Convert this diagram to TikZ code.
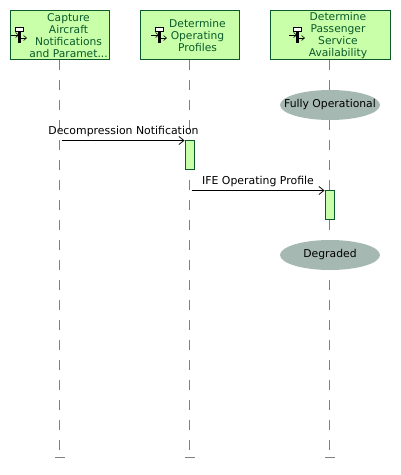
\documentclass[tikz,border=0pt]{standalone}
\usepackage{fontspec}
\setmainfont{DejaVu Sans}
\usetikzlibrary{arrows.meta}
\usetikzlibrary{shapes.geometric}
\definecolor{capfill}{HTML}{C8FFA8}
\definecolor{capline}{HTML}{0B5A2C}
\definecolor{statefill}{HTML}{A6B8B2}
\tikzset{
	capbox/.style = {draw = capline, fill = capfill, line width = 0.9pt, minimum height = 49pt, inner sep = 0pt},
	caplabel/.style = {text = capline, align = center, inner sep = 0pt, font = \fontsize{10.7}{12}\selectfont},
	lifeline/.style = {draw = gray, line width = 0.9pt, dash pattern = on 10pt off 10pt},
	endbar/.style = {draw = gray, line width = 0.9pt},
	activation/.style = {draw = capline, fill = capfill, line width = 0.9pt, minimum width = 9.5pt, minimum height = 29pt, inner sep = 0pt},
	statenode/.style = {ellipse, fill = statefill, minimum width = 100pt, minimum height = 30pt, inner xsep = -12pt, inner ysep = -2pt, text height = 7pt, text depth = 3pt, font = \fontsize{10.8}{12}\selectfont},
	message/.style = {draw = black, line width = 0.8pt, -{Straight Barb[length = 5pt, width = 8pt]}},
	msglabel/.style = {inner sep = 0pt, font = \fontsize{10.9}{12}\selectfont}
}
% small capability glyph, #1 = its left end
\newcommand{\capglyph}[1]{
	\begin{scope}[xshift = #1pt, yshift = -35pt]
		\draw[line width = 1pt, fill = white] (4,8) rectangle (12,4);
		\fill[black] (7,4) rectangle (10,-8);
		\draw[line width = 0.6pt, -{Straight Barb[length = 3pt, width = 5pt]}] (0,0) -- (8,0);
		\draw[line width = 0.6pt, -{Straight Barb[length = 3pt, width = 5pt]}] (9,-3) -- (16,-3);
	\end{scope}
}

\begin{document}
\begin{tikzpicture}[x = 1pt, y = 1pt]
	\useasboundingbox (0,0) rectangle (401,-475);
	
	% header boxes
	\node[capbox, minimum width = 99pt] (capture) at (60,-35) {};
	\node[capbox, minimum width = 99pt] (operating) at (190,-35) {};
	\node[capbox, minimum width = 120pt] (passenger) at (330.5,-35) {};
	
	\node[caplabel] (capturetext) at (68.5,-35.8) {Capture\\Aircraft\\Notifications\\and Paramet...};
	\node[caplabel] (operatingtext) at (197.5,-35.6) {Determine\\Operating\\Profiles};
	\node[caplabel] (passengertext) at (338,-35.8) {Determine\\Passenger\\Service\\Availability};
	
	\capglyph{11}
	\capglyph{151}
	\capglyph{289}
	
	% lifelines
	\coordinate (captureend) at (59,-457);
	\coordinate (operatingend) at (189,-457);
	\coordinate (passengerend) at (329,-457);
	
	\draw[lifeline] (capture.south -| captureend) -- (captureend);
	\draw[lifeline] (operating.south -| operatingend) -- (operatingend);
	\draw[lifeline] (passenger.south -| passengerend) -- (passengerend);
	
	\foreach \e in {captureend, operatingend, passengerend} {
		\draw[endbar] ([xshift = -4pt]\e) -- ([xshift = 6pt]\e);
	}
	
	% states
	\node[statenode] (fully) at (330,-105) {Fully Operational};
	\node[statenode] (degraded) at (330,-255) {Degraded};
	
	% messages
	\node[activation] (firstbar) at (189.75,-154.5) {};
	\node[activation] (secondbar) at (329.75,-204.5) {};
	
	\coordinate (firststart) at (61.5,-140.5);
	\coordinate (secondstart) at (191.5,-190.5);
	
	\draw[message] (firststart) -- (firststart -| firstbar.west);
	\draw[message] (secondstart) -- (secondstart -| secondbar.west);
	
	\node[msglabel] (firsttext) at (123.5,-131) {Decompression Notification};
	\node[msglabel] (secondtext) at (258,-181) {IFE Operating Profile};
\end{tikzpicture}
\end{document}
